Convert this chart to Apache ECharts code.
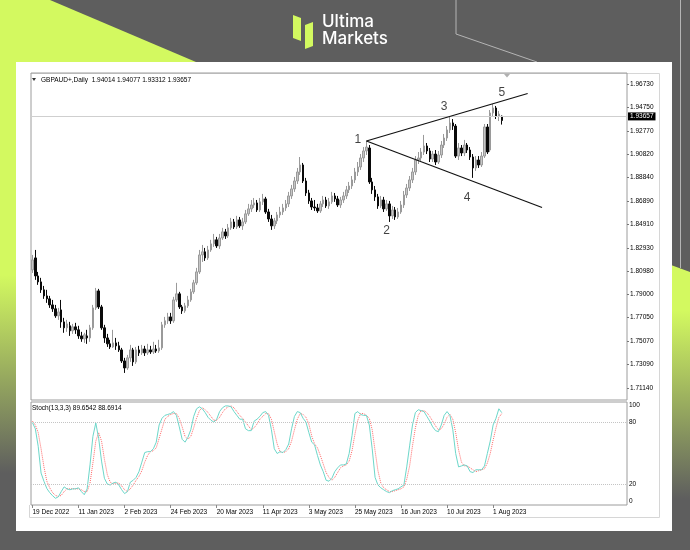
<!DOCTYPE html>
<html><head><meta charset="utf-8">
<script src="https://cdn.jsdelivr.net/npm/echarts@6/dist/echarts.min.js"></script>
<style>html,body{margin:0;padding:0;background:#5e5e5e;}#c{width:690px;height:550px;}</style>
</head><body><div id="c"></div>
<script>
const dateLabels = ['19 Dec 2022','11 Jan 2023','2 Feb 2023','24 Feb 2023','20 Mar 2023','11 Apr 2023','3 May 2023','25 May 2023','16 Jun 2023','10 Jul 2023','1 Aug 2023'];
const labelStep = 16;
const slotCount = 207;
const priceTicks = [1.96730,1.94750,1.92770,1.90820,1.88840,1.86890,1.84910,1.82930,1.80980,1.79000,1.77050,1.75070,1.73090,1.71140];
const stochTicks = [0,20,80,100];
const stochLevels = [20,80];
const lastPrice = 1.93657;
const headerText = 'GBPAUD+,Daily  1.94014 1.94077 1.93312 1.93657';
const stochText = 'Stoch(13,3,3) 89.6542 88.6914';
// [open, close, low, high]
const candles = [
[1.8107,1.8191,1.8081,1.8233],[1.8208,1.8056,1.8023,1.8275],[1.8056,1.8006,1.7981,1.8090],[1.8006,1.7939,1.7913,1.8040],
[1.7939,1.7888,1.7863,1.7972],[1.7888,1.7863,1.7829,1.7939],[1.7863,1.7812,1.7787,1.7888],[1.7812,1.7779,1.7753,1.7854],
[1.7779,1.7720,1.7703,1.7812],[1.7720,1.7753,1.7686,1.7787],[1.7770,1.7669,1.7619,1.7854],[1.7669,1.7619,1.7577,1.7703],
[1.7619,1.7652,1.7585,1.7686],[1.7636,1.7594,1.7551,1.7669],[1.7594,1.7627,1.7568,1.7652],[1.7627,1.7602,1.7568,1.7661],
[1.7602,1.7551,1.7526,1.7636],[1.7551,1.7526,1.7501,1.7585],[1.7526,1.7560,1.7492,1.7577],[1.7551,1.7534,1.7484,1.7602],
[1.7534,1.7619,1.7501,1.7644],[1.7619,1.7787,1.7602,1.7812],[1.7787,1.7930,1.7770,1.7955],[1.7930,1.7795,1.7778,1.7947],
[1.7795,1.7619,1.7602,1.7812],[1.7619,1.7534,1.7492,1.7644],[1.7534,1.7484,1.7458,1.7568],[1.7484,1.7458,1.7441,1.7518],
[1.7458,1.7492,1.7450,1.7602],[1.7492,1.7467,1.7433,1.7534],[1.7467,1.7433,1.7416,1.7501],[1.7433,1.7340,1.7323,1.7450],
[1.7340,1.7281,1.7239,1.7366],[1.7281,1.7366,1.7265,1.7391],[1.7366,1.7433,1.7332,1.7475],[1.7433,1.7332,1.7298,1.7450],
[1.7332,1.7433,1.7315,1.7458],[1.7433,1.7408,1.7382,1.7467],[1.7408,1.7441,1.7391,1.7475],[1.7441,1.7408,1.7382,1.7467],
[1.7408,1.7433,1.7391,1.7484],[1.7433,1.7416,1.7399,1.7467],[1.7416,1.7441,1.7399,1.7501],[1.7441,1.7424,1.7408,1.7475],
[1.7424,1.7450,1.7408,1.7518],[1.7450,1.7644,1.7433,1.7669],[1.7644,1.7678,1.7619,1.7711],[1.7678,1.7711,1.7652,1.7745],
[1.7711,1.7678,1.7652,1.7745],[1.7678,1.7854,1.7661,1.7880],[1.7854,1.7905,1.7838,1.7998],[1.7905,1.7795,1.7778,1.7922],
[1.7795,1.7762,1.7736,1.7812],[1.7762,1.7804,1.7745,1.7829],[1.7804,1.7854,1.7787,1.7888],[1.7854,1.7922,1.7838,1.7947],
[1.7922,1.7998,1.7905,1.8023],[1.7998,1.8090,1.7981,1.8124],[1.8090,1.8233,1.8073,1.8275],[1.8233,1.8259,1.8174,1.8317],
[1.8259,1.8208,1.8183,1.8292],[1.8208,1.8275,1.8191,1.8309],[1.8275,1.8326,1.8259,1.8360],[1.8326,1.8360,1.8301,1.8410],
[1.8360,1.8309,1.8292,1.8385],[1.8309,1.8376,1.8284,1.8410],[1.8376,1.8427,1.8360,1.8461],[1.8427,1.8393,1.8368,1.8452],
[1.8393,1.8461,1.8376,1.8494],[1.8461,1.8511,1.8444,1.8545],[1.8511,1.8469,1.8452,1.8536],[1.8469,1.8528,1.8452,1.8562],
[1.8528,1.8478,1.8461,1.8553],[1.8478,1.8511,1.8444,1.8545],[1.8511,1.8579,1.8494,1.8612],[1.8579,1.8621,1.8562,1.8663],
[1.8621,1.8654,1.8595,1.8696],[1.8654,1.8671,1.8629,1.8713],[1.8671,1.8612,1.8595,1.8696],[1.8612,1.8680,1.8595,1.8713],
[1.8680,1.8705,1.8654,1.8747],[1.8705,1.8595,1.8579,1.8722],[1.8595,1.8536,1.8511,1.8621],[1.8536,1.8478,1.8444,1.8570],
[1.8478,1.8520,1.8452,1.8545],[1.8520,1.8570,1.8494,1.8595],[1.8570,1.8595,1.8545,1.8638],[1.8595,1.8629,1.8570,1.8663],
[1.8629,1.8663,1.8604,1.8696],[1.8663,1.8730,1.8637,1.8764],[1.8730,1.8789,1.8705,1.8823],[1.8789,1.8856,1.8764,1.8890],
[1.8856,1.8932,1.8831,1.8966],[1.8932,1.8991,1.8907,1.9058],[1.8991,1.8856,1.8839,1.9008],[1.8856,1.8755,1.8730,1.8882],
[1.8755,1.8688,1.8663,1.8781],[1.8688,1.8637,1.8612,1.8713],[1.8637,1.8629,1.8604,1.8696],[1.8629,1.8604,1.8587,1.8663],
[1.8604,1.8663,1.8587,1.8688],[1.8663,1.8696,1.8637,1.8730],[1.8696,1.8646,1.8629,1.8722],[1.8646,1.8680,1.8621,1.8713],
[1.8680,1.8730,1.8663,1.8764],[1.8730,1.8705,1.8680,1.8755],[1.8705,1.8654,1.8637,1.8730],[1.8654,1.8696,1.8629,1.8722],
[1.8696,1.8730,1.8671,1.8764],[1.8730,1.8781,1.8705,1.8814],[1.8781,1.8814,1.8755,1.8848],[1.8814,1.8865,1.8789,1.8898],
[1.8865,1.8932,1.8839,1.8966],[1.8932,1.8974,1.8898,1.9016],[1.8974,1.9050,1.8949,1.9083],[1.9050,1.9109,1.9016,1.9142],
[1.9109,1.9142,1.9075,1.9193],[1.9134,1.8848,1.8831,1.9159],[1.8848,1.8781,1.8747,1.8882],[1.8781,1.8722,1.8688,1.8814],
[1.8722,1.8646,1.8621,1.8747],[1.8646,1.8696,1.8629,1.8730],[1.8696,1.8621,1.8595,1.8722],[1.8621,1.8663,1.8604,1.8696],
[1.8663,1.8562,1.8511,1.8688],[1.8562,1.8612,1.8536,1.8646],[1.8612,1.8553,1.8528,1.8637],[1.8553,1.8595,1.8536,1.8629],
[1.8595,1.8654,1.8579,1.8688],[1.8654,1.8738,1.8629,1.8772],[1.8738,1.8797,1.8713,1.8831],[1.8797,1.8865,1.8772,1.8898],
[1.8865,1.8932,1.8839,1.8966],[1.8932,1.9033,1.8907,1.9066],[1.9033,1.9050,1.8999,1.9100],[1.9050,1.9100,1.9025,1.9134],
[1.9100,1.9151,1.9075,1.9244],[1.9151,1.9109,1.9083,1.9176],[1.9109,1.9041,1.9016,1.9134],[1.9041,1.9083,1.9016,1.9109],
[1.9083,1.9016,1.8991,1.9117],[1.9016,1.9075,1.8999,1.9109],[1.9075,1.9159,1.9050,1.9193],[1.9159,1.9218,1.9134,1.9252],
[1.9218,1.9286,1.9193,1.9319],[1.9286,1.9345,1.9260,1.9395],[1.9345,1.9319,1.9286,1.9378],[1.9319,1.9066,1.9050,1.9336],
[1.9066,1.9134,1.9033,1.9176],[1.9134,1.9092,1.9066,1.9159],[1.9092,1.9159,1.9066,1.9202],[1.9159,1.9117,1.9092,1.9176],
[1.9117,1.9058,1.9033,1.9142],[1.9058,1.8966,1.8882,1.9083],[1.8966,1.9033,1.8941,1.9066],[1.9033,1.8991,1.8966,1.9066],
[1.8991,1.9066,1.8974,1.9100],[1.9066,1.9311,1.9050,1.9336],[1.9311,1.9100,1.9083,1.9336],[1.9117,1.9429,1.9100,1.9454],
[1.9429,1.9471,1.9403,1.9505],[1.9471,1.9403,1.9378,1.9488],[1.9403,1.9420,1.9361,1.9446],[1.94014,1.93657,1.93312,1.94077]
];
const stochK = [80,74,57,31,23,16,12,9,6.5,8,13,17.6,15.7,14.8,15.7,15.7,16.7,13,10,15.7,
39,66.6,79.6,64.7,42.6,25.9,20.4,19.4,21.3,22.2,19.4,14.8,11.1,13,22.2,24,26.8,32.4,41.6,50.9,
51.8,51.8,54.6,61,77.7,84.2,87,87.9,88.8,90.7,87,75.9,63.8,61,65.7,73.1,86,93.4,95.3,93.4,
89.7,85.1,82.3,80.5,83.3,90.7,94.4,96.2,96.2,95.3,90.7,87,83.3,83.3,74,72.2,72.2,81.4,83.3,86,
89.7,90.7,87,73.1,54.6,50,51.8,50.9,53.7,59.2,74,86,90.7,89.7,84.2,80.5,70.3,61,58.3,48.1,
38.9,32.4,24,23.1,25.9,32.4,36.1,38.9,38.9,39.8,50,67.5,88.8,90.7,87.9,87,87,77.7,54.6,26.8,
19.4,16.7,14.8,13,12,13.9,14.8,15.7,17.6,19.4,37,57.4,77.7,89.7,92.5,91.6,90.7,86,81.4,75.9,
72.2,71.2,77.7,87,90.7,87,73.1,50,37,37.9,38.9,37.9,32.4,31.5,34.2,34.2,34.2,37.9,50,62,
77.7,84.2,93.4,89.6542];
const stochD = [81.4,77.7,70.3,54.6,37,23.1,16.7,12,9.3,8.3,9.3,13,15.7,15.7,15.7,15.7,15.7,14.8,13,13,
21.3,40.7,62,70.3,62,44.4,29.6,22.2,20.4,21.3,21.3,18.5,14.8,13,15.7,19.4,24,27.8,33.3,41.6,
48.1,51.8,52.7,55.5,64.7,74,83.3,86,87.9,88.8,88.8,84.2,75.9,66.6,63.8,66.6,74.9,84.2,91.6,94.4,
92.5,89.7,86,82.3,82.3,85.1,89.7,93.4,95.3,96.2,94.4,90.7,87,84.2,80.5,76.8,73.1,75,78.6,83.3,
86,88.8,88.8,83.3,71.2,59.2,51.8,50.9,51.8,54.6,62,73.1,83.3,88.8,87.9,85.1,78.6,67,59.2,55.5,
48.1,39.8,31.5,26.8,24,26.8,31.5,36.1,37.9,38.9,42.6,52.7,68.5,82.3,88.8,88.8,87,84.2,73.1,52.7,
33.3,21.3,16.7,14.8,13,13,13.9,14.8,15.7,17.6,25,37.9,57.4,74.9,87,91.6,91.6,89.7,86,81.4,
76.8,73.1,74,78.6,85.1,87.9,83.3,70.3,53.7,41.6,37.9,37.9,36.1,34.2,32.4,33.3,34.2,35.2,40.7,50,
62.9,74.9,85.1,88.6914];
const upperTrend = [[116,1.91928],[172,1.95930]];
const lowerTrend = [[116,1.91928],[177,1.86326]];
const waveLabels = [['1',113.2,1.92012],['2',123.3,1.84346],['3',143.4,1.94790],['4',151.4,1.87126],['5',162.5,1.95972]];

const categories = Array.from({length: slotCount}, (_, i) => 'b' + i);
const isLabelIdx = (i) => i % labelStep === 0 && i / labelStep < dateLabels.length;
const LIME = '#d3f960', GRAY = '#5e5e5e';
const FONT = 'Liberation Sans';

const chart = echarts.init(document.getElementById('c'), null, {renderer: 'canvas'});
chart.setOption({
  animation: false,
  backgroundColor: GRAY,
  graphic: { elements: [
    {type:'polygon', z:-20, shape:{points:[[0,0],[50,0],[196,62],[0,62]]}, style:{fill:LIME}},
    {type:'rect', z:-20, shape:{x:0,y:0,width:17,height:550}, style:{fill:new echarts.graphic.LinearGradient(0,0,0,1,[{offset:0,color:LIME},{offset:0.5,color:LIME},{offset:0.86,color:GRAY},{offset:1,color:GRAY}])}},
    {type:'polygon', z:-20, shape:{points:[[671,265],[690,272],[690,550],[671,550]]}, style:{fill:new echarts.graphic.LinearGradient(0,0,0,1,[{offset:0,color:LIME},{offset:0.16,color:LIME},{offset:0.82,color:GRAY},{offset:1,color:GRAY}])}},
    {type:'polyline', z:-20, shape:{points:[[456,0],[456,34],[537,62]]}, style:{stroke:'#b4b4b4', lineWidth:1, fill:null}},
    {type:'line', z:-20, shape:{x1:680.5,y1:0,x2:680.5,y2:268}, style:{stroke:'#b4b4b4', lineWidth:1}},
    {type:'rect', z:-15, shape:{x:16,y:62,width:656,height:469}, style:{fill:'#ffffff'}},
    {type:'polyline', z:-14, shape:{points:[[30.5,73.5],[659.5,73.5],[659.5,517.5],[29.5,517.5],[29.5,505]]}, style:{stroke:'#d6d6d6', lineWidth:1, fill:null}},
    {type:'polygon', z:10, shape:{points:[[293,15],[301,18],[301,41],[293,38]]}, style:{fill:LIME}},
    {type:'polygon', z:10, shape:{points:[[305,25],[313,22],[313,46],[305,49]]}, style:{fill:LIME}},
    {type:'text', z:10, x:322, y:13, style:{text:'Ultima', fill:'#ffffff', font:'500 17px Inter', verticalAlign:'top'}},
    {type:'text', z:10, x:322, y:30, style:{text:'Markets', fill:'#ffffff', font:'500 17px Inter', verticalAlign:'top'}},
    {type:'polygon', z:10, shape:{points:[[32,78],[36,78],[34,81]]}, style:{fill:'#333'}},
    {type:'text', z:10, x:41, y:80, style:{text:headerText, fill:'#000', font:'6.5px ' + FONT, verticalAlign:'middle'}},
    {type:'text', z:10, x:32, y:408.5, style:{text:stochText, fill:'#000', font:'6.5px ' + FONT, verticalAlign:'middle'}},
    {type:'polygon', z:10, shape:{points:[[504,74],[510,74],[507,77.5]]}, style:{fill:'#b0b0b0'}}
  ]},
  grid: [
    {left:31, top:73, width:596, height:327, show:true, borderColor:'#9c9c9c', borderWidth:1, backgroundColor:'transparent'},
    {left:31, top:402, width:596, height:103, show:true, borderColor:'#9c9c9c', borderWidth:1, backgroundColor:'transparent'}
  ],
  xAxis: [
    {type:'category', gridIndex:0, data:categories, boundaryGap:true, axisLine:{show:false}, axisTick:{show:false}, axisLabel:{show:false}, splitLine:{show:false}},
    {type:'category', gridIndex:1, data:categories, boundaryGap:true, position:'bottom', axisLine:{show:false},
      axisTick:{show:true, alignWithLabel:true, interval:(i)=>isLabelIdx(i), length:3, lineStyle:{color:'#888'}},
      axisLabel:{show:true, interval:(i)=>isLabelIdx(i), formatter:(v,i)=>isLabelIdx(i)?dateLabels[i/labelStep]:'', align:'left', margin:4, fontSize:6.5, fontFamily:FONT, color:'#000'},
      splitLine:{show:false}}
  ],
  yAxis: [
    {type:'value', gridIndex:0, position:'right', min:1.70109, max:1.97657, splitLine:{show:false}, axisLine:{show:false},
      axisTick:{show:true, customValues:priceTicks, length:2, lineStyle:{color:'#777'}},
      axisLabel:{customValues:priceTicks, formatter:(v)=>v.toFixed(5), fontSize:6.5, fontFamily:FONT, color:'#000', margin:3}},
    {type:'value', gridIndex:1, position:'right', min:0, max:100, splitLine:{show:false}, axisLine:{show:false}, axisTick:{show:false},
      axisLabel:{customValues:stochTicks, fontSize:6.5, fontFamily:FONT, color:'#000', margin:2, verticalAlignMaxLabel:'top', verticalAlignMinLabel:'bottom'}}
  ],
  series: [
    {type:'candlestick', xAxisIndex:0, yAxisIndex:0, data:candles, barWidth:2,
      itemStyle:{color:'#c6c6c6', color0:'#0a0a0a', borderColor:'#9a9a9a', borderColor0:'#0a0a0a', borderWidth:1},
      markLine:{silent:true, symbol:'none', animation:false,
        lineStyle:{color:'#cfcfcf', type:'solid', width:1},
        label:{show:true, position:'end', formatter:()=>lastPrice.toFixed(5), backgroundColor:'#000', color:'#fff', fontSize:6.5, fontFamily:FONT, padding:[1,2,0,2], distance:1},
        data:[{yAxis:lastPrice}]}},
    {type:'line', xAxisIndex:0, yAxisIndex:0, data:upperTrend, symbol:'none', lineStyle:{color:'#111', width:1.2}, z:5},
    {type:'line', xAxisIndex:0, yAxisIndex:0, data:lowerTrend, symbol:'none', lineStyle:{color:'#111', width:1.2}, z:5},
    {type:'scatter', xAxisIndex:0, yAxisIndex:0, symbolSize:1, itemStyle:{color:'rgba(0,0,0,0)'}, z:6,
      data:waveLabels.map(w=>({name:w[0], value:[w[1], w[2]]})),
      label:{show:true, position:'inside', formatter:(p)=>p.name, color:'#111', fontSize:12, fontFamily:FONT}},
    {type:'line', xAxisIndex:1, yAxisIndex:1, data:stochK, symbol:'none', lineStyle:{color:'#6dd7ca', width:1}, z:4,
      markLine:{silent:true, symbol:'none', animation:false, label:{show:false},
        lineStyle:{color:'#c4c4c4', type:'dotted', width:1},
        data:stochLevels.map(v=>({yAxis:v}))}},
    {type:'line', xAxisIndex:1, yAxisIndex:1, data:stochD, symbol:'none', lineStyle:{color:'#ff6a6a', width:1, type:'dotted'}, z:3}
  ]
});
</script></body></html>
